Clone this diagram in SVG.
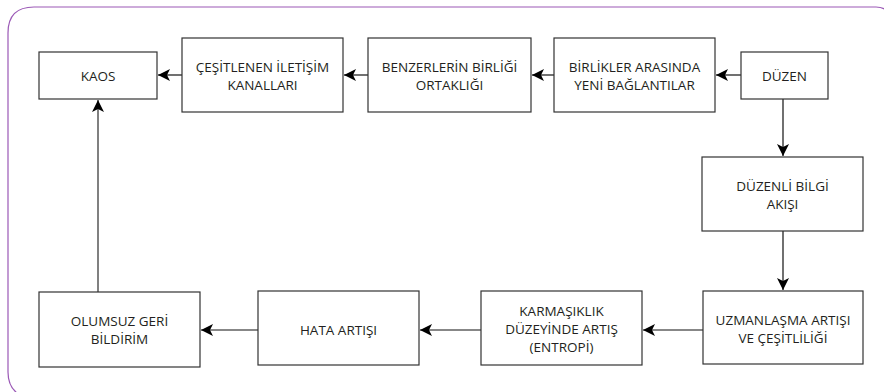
<svg xmlns="http://www.w3.org/2000/svg" width="884" height="392" viewBox="0 0 884 392">
<style>
.box{fill:#fff;stroke:#333;stroke-width:1.2}
.t{font-family:"Open Sans","Noto Sans",sans-serif;font-size:13.5px;fill:#231f20;text-anchor:middle}
.c{stroke:#111;stroke-width:1.2;fill:none;marker-end:url(#ah)}
</style>
<defs>
<marker id="ah" markerWidth="14" markerHeight="12" refX="12" refY="6" orient="auto" markerUnits="userSpaceOnUse">
<path d="M0,0 L12,6 L0,12 L3,6 Z" fill="#000"/>
</marker>
</defs>
<rect width="884" height="392" fill="#fff"/>
<path d="M17,393 Q8,386 8,372 V33 Q8,7 34,7 H876 Q882,7 886,10" fill="none" stroke="#9b59b6" stroke-width="1.2"/>
<g id="connectors">
<path class="c" d="M741,75 H716"/>
<path class="c" d="M554,75 H532"/>
<path class="c" d="M368,75 H344"/>
<path class="c" d="M182,75 H158"/>
<path class="c" d="M783,99 V156"/>
<path class="c" d="M783,231 V290"/>
<path class="c" d="M703,330 H643"/>
<path class="c" d="M481,330 H420"/>
<path class="c" d="M258,330 H201"/>
<path class="c" d="M98,292 V100" style="stroke:#808080;stroke-width:2"/>
</g>
<g id="kaos"><rect class="box" x="39" y="52" width="118" height="47"/><text class="t" x="98" y="80.5">KAOS</text></g>
<g id="cesitlenen"><rect class="box" x="182" y="38" width="161" height="74"/><text class="t" x="262.5" y="72">ÇEŞİTLENEN İLETİŞİM</text><text class="t" x="262.5" y="90">KANALLARI</text></g>
<g id="benzerlerin"><rect class="box" x="368" y="38" width="163" height="74"/><text class="t" x="449.5" y="72">BENZERLERİN BİRLİĞİ</text><text class="t" x="449.5" y="90">ORTAKLIĞI</text></g>
<g id="birlikler"><rect class="box" x="554" y="38" width="161" height="74"/><text class="t" x="634.5" y="72">BİRLİKLER ARASINDA</text><text class="t" x="634.5" y="90">YENİ BAĞLANTILAR</text></g>
<g id="duzen"><rect class="box" x="741" y="52" width="87" height="47"/><text class="t" x="784.5" y="80.5">DÜZEN</text></g>
<g id="duzenli"><rect class="box" x="702" y="157" width="161" height="74"/><text class="t" x="782.5" y="191">DÜZENLİ BİLGİ</text><text class="t" x="782.5" y="209">AKIŞI</text></g>
<g id="uzmanlasma"><rect class="box" x="703" y="291" width="160" height="73"/><text class="t" x="783" y="325">UZMANLAŞMA ARTIŞI</text><text class="t" x="783" y="343">VE ÇEŞİTLİLİĞİ</text></g>
<g id="karmasiklik"><rect class="box" x="481" y="291" width="161" height="74"/><text class="t" x="561.5" y="316">KARMAŞIKLIK</text><text class="t" x="561.5" y="334">DÜZEYİNDE ARTIŞ</text><text class="t" x="561.5" y="352">(ENTROPİ)</text></g>
<g id="hata"><rect class="box" x="258" y="291" width="161" height="74"/><text class="t" x="338.5" y="334.5">HATA ARTIŞI</text></g>
<g id="olumsuz"><rect class="box" x="39" y="292" width="161" height="75"/><text class="t" x="119.5" y="326">OLUMSUZ GERİ</text><text class="t" x="119.5" y="344">BİLDİRİM</text></g>
</svg>
